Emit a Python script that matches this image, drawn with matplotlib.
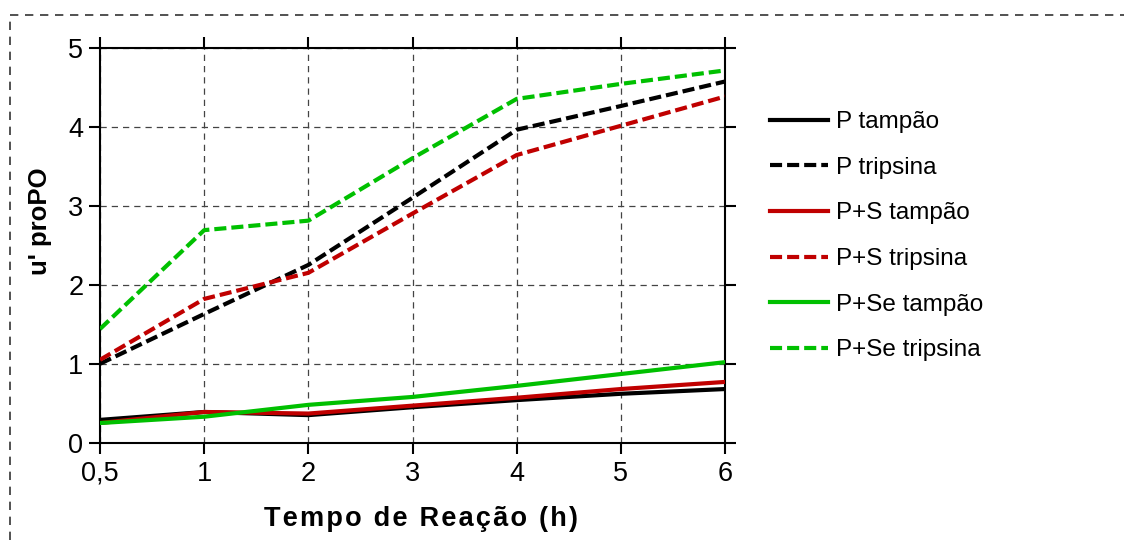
import matplotlib.pyplot as plt
from matplotlib.lines import Line2D

plt.rcParams['font.family'] = ['Liberation Sans', 'DejaVu Sans']

tempos = ['0,5', '1', '2', '3', '4', '5', '6']

p_tampao = [0.29, 0.39, 0.35, 0.45, 0.54, 0.62, 0.68]
p_tripsina = [1.00, 1.63, 2.25, 3.10, 3.96, 4.26, 4.57]
ps_tampao = [0.25, 0.39, 0.37, 0.47, 0.57, 0.68, 0.77]
ps_tripsina = [1.05, 1.82, 2.15, 2.90, 3.64, 4.01, 4.38]
pse_tampao = [0.25, 0.33, 0.48, 0.58, 0.72, 0.87, 1.02]
pse_tripsina = [1.44, 2.69, 2.81, 3.60, 4.35, 4.54, 4.71]

preto = '#000000'
vermelho = '#c00000'
verde = '#00c000'

fig = plt.figure(figsize=(11.24, 5.4), dpi=100)
ax = fig.add_axes([0.089, 0.18, 0.556, 0.732])

x = range(len(tempos))
tracado = (0, (2.9, 1.2))
series = [
    (p_tampao, preto, '-', 'P tampão'),
    (p_tripsina, preto, tracado, 'P tripsina'),
    (ps_tampao, vermelho, '-', 'P+S tampão'),
    (ps_tripsina, vermelho, tracado, 'P+S tripsina'),
    (pse_tampao, verde, '-', 'P+Se tampão'),
    (pse_tripsina, verde, tracado, 'P+Se tripsina'),
]
for vals, cor, ls, nome in series:
    ax.plot(x, vals, color=cor, linestyle=ls, linewidth=3.0, label=nome, zorder=3)

ax.set_xlim(0, 6)
ax.set_ylim(0, 5)
ax.set_xticks(list(x))
ax.set_xticklabels(tempos)
ax.set_yticks(range(6))
ax.grid(True, color='#444444', linestyle=(0, (5, 4)), linewidth=0.9)
ax.tick_params(axis='both', which='both', direction='out', length=8, width=1.5,
               labelsize=19.5, top=True, right=True, labeltop=False, labelright=False)
ax.tick_params(axis='x', pad=5)
ax.tick_params(axis='y', pad=4)
for s in ax.spines.values():
    s.set_linewidth(1.5)

# título do eixo x com letras levemente espaçadas (hair space)
titulo_x = '\u200a'.join('Tempo de Reação (h)')
ax.set_xlabel(titulo_x, fontsize=19.5, fontweight='bold')
ax.xaxis.set_label_coords(0.514, -0.16)
ax.set_ylabel("u' proPO", fontsize=18.5, fontweight='bold')
ax.yaxis.set_label_coords(-0.077, 0.56)

leg = fig.legend(loc='upper left', bbox_to_anchor=(0.676, 0.812), frameon=False,
                 fontsize=17.5, handlelength=2.4, handletextpad=0.35,
                 labelspacing=0.97, borderaxespad=0)

# moldura tracejada externa
fig.add_artist(Line2D([0.009, 1.0], [0.972, 0.972], transform=fig.transFigure,
                      color='#333333', linestyle=(0, (5, 4)), linewidth=1.2))
fig.add_artist(Line2D([0.009, 0.009], [0.0, 0.972], transform=fig.transFigure,
                      color='#333333', linestyle=(0, (5, 4)), linewidth=1.2))

fig.savefig('out.png', dpi=100)
